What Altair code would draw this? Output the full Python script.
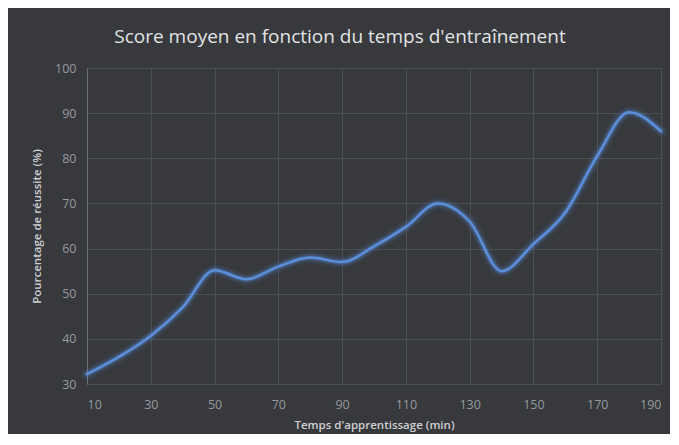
import altair as alt
import pandas as pd

minutes = [10, 20, 30, 40, 50, 60, 70, 80, 90, 100, 110, 120, 130, 140, 150, 160, 170, 180, 190]
score = [32.2, 36, 40.7, 47, 55.2, 53.2, 56, 58, 57, 60.5, 64.8, 70, 66, 55, 61, 68, 80.5, 90.2, 86]
x_ticks = [10, 30, 50, 70, 90, 110, 130, 150, 170, 190]
y_ticks = [30, 40, 50, 60, 70, 80, 90, 100]

df = pd.DataFrame({"t": minutes, "s": score})

FONT = "Open Sans"
BG = "#37393d"
BLUE = "#5b8fdc"

x_enc = alt.X("t:Q", scale=alt.Scale(domain=[10, 190], nice=False),
              axis=alt.Axis(values=x_ticks, title="Temps d'apprentissage (min)",
                            grid=True, gridColor="#4b4e53", gridWidth=1,
                            domain=False, ticks=False, labelColor="#96999d",
                            labelFontSize=12.5, labelPadding=14, labelFont=FONT,
                            titleColor="#cfd0d2", titleFontSize=11.5, titleFontWeight=600,
                            titleFont=FONT, titlePadding=9))
y_enc = alt.Y("s:Q", scale=alt.Scale(domain=[30, 100], nice=False),
              axis=alt.Axis(values=y_ticks, title="Pourcentage de réussite (%)",
                            grid=True, gridColor="#4b4e53", gridWidth=1,
                            domain=True, domainColor="#6f7276", domainWidth=1,
                            ticks=False, labelColor="#96999d",
                            labelFontSize=12.5, labelPadding=11, labelFont=FONT,
                            titleColor="#cfd0d2", titleFontSize=11.5, titleFontWeight=600,
                            titleFont=FONT, titlePadding=12))

base = alt.Chart(df).encode(x=x_enc, y=y_enc)

glow1 = base.mark_line(interpolate="monotone", color=BLUE, strokeWidth=12, opacity=0.08, strokeCap="round")
glow2 = base.mark_line(interpolate="monotone", color=BLUE, strokeWidth=8, opacity=0.14, strokeCap="round")
glow3 = base.mark_line(interpolate="monotone", color=BLUE, strokeWidth=5, opacity=0.25, strokeCap="round")
line = base.mark_line(interpolate="monotone", color=BLUE, strokeWidth=2.5, strokeCap="round")

chart = alt.layer(glow1, glow2, glow3, line).properties(
    width=574,
    height=316,
    title=alt.TitleParams("Score moyen en fonction du temps d'entraînement",
                          font=FONT, fontSize=19, fontWeight="normal", color="#e2e3e4",
                          anchor="middle", dx=-34, offset=15),
    background=BG,
    autosize=alt.AutoSizeParams(type="none"),
    padding={"left": 79, "top": 60, "right": 9, "bottom": 50},
).configure_view(stroke=None)

chart.save("out.html", embed_options={"renderer": "svg", "actions": False})
